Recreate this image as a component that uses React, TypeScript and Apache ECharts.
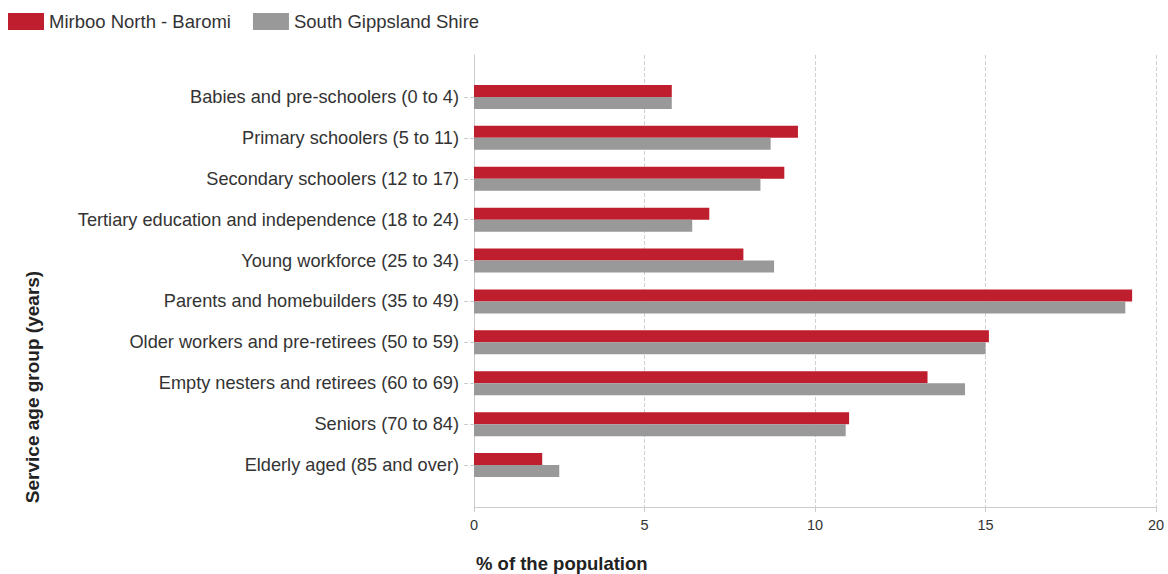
import React, { useEffect, useRef } from "react";
import * as echarts from "echarts";

const categories = [
  "Babies and pre-schoolers (0 to 4)",
  "Primary schoolers (5 to 11)",
  "Secondary schoolers (12 to 17)",
  "Tertiary education and independence (18 to 24)",
  "Young workforce (25 to 34)",
  "Parents and homebuilders (35 to 49)",
  "Older workers and pre-retirees (50 to 59)",
  "Empty nesters and retirees (60 to 69)",
  "Seniors (70 to 84)",
  "Elderly aged (85 and over)",
];

const mirbooNorth = [5.8, 9.5, 9.1, 6.9, 7.9, 19.3, 15.1, 13.3, 11.0, 2.0];
const southGippsland = [5.8, 8.7, 8.4, 6.4, 8.8, 19.1, 15.0, 14.4, 10.9, 2.5];

const xTicks = [0, 5, 10, 15, 20];

const FONT = "'Liberation Sans', Arial, sans-serif";

export default function App() {
  const ref = useRef<HTMLDivElement>(null);

  useEffect(() => {
    if (!ref.current) return;
    const chart = echarts.init(ref.current, null, { renderer: "svg" });
    const option: any = {
      animation: false,
      backgroundColor: "#ffffff",
      textStyle: { fontFamily: FONT },
      legend: {
        left: 8,
        top: 12,
        padding: 0,
        icon: "rect",
        itemWidth: 36,
        itemHeight: 17,
        itemGap: 22,
        textStyle: { fontSize: 18.5, color: "#333333", fontFamily: FONT },
        data: ["Mirboo North - Baromi", "South Gippsland Shire"],
      },
      grid: [
        { left: 474, right: 12, top: 76.5, height: 409, containLabel: false },
        { left: 474, right: 12, top: 55, height: 452, containLabel: false },
      ],
      xAxis: [
        { gridIndex: 0, type: "value", min: xTicks[0], max: xTicks[xTicks.length - 1], show: false },
        {
          gridIndex: 1,
          type: "value",
          min: xTicks[0],
          max: xTicks[xTicks.length - 1],
          interval: 5,
          axisLine: { show: true, lineStyle: { color: "#cccccc", width: 1 } },
          axisTick: { show: true, length: 5, lineStyle: { color: "#cccccc" } },
          axisLabel: { fontSize: 14.5, color: "#333333", margin: 10, fontFamily: FONT },
          splitLine: { show: true, lineStyle: { color: "#d0d0d0", type: "dashed", width: 1 } },
        },
      ],
      yAxis: [
        {
          gridIndex: 0,
          type: "category",
          inverse: true,
          data: categories,
          axisLine: { show: false },
          axisTick: {
            show: true,
            alignWithLabel: true,
            length: 10,
            lineStyle: { color: "#cccccc", type: "dashed" },
          },
          axisLabel: { fontSize: 18.2, color: "#333333", margin: 15, fontFamily: FONT },
          splitLine: { show: false },
        },
        {
          gridIndex: 1,
          type: "value",
          min: 0,
          max: 1,
          axisLine: { show: true, lineStyle: { color: "#cccccc", width: 1 } },
          axisTick: { show: false },
          axisLabel: { show: false },
          splitLine: { show: false },
        },
      ],
      graphic: [
        {
          type: "text",
          x: 32,
          y: 387,
          rotation: Math.PI / 2,
          style: {
            text: "Service age group (years)",
            fontSize: 19,
            fontWeight: "bold",
            fill: "#222222",
            fontFamily: FONT,
            align: "center",
            verticalAlign: "middle",
          },
        },
        {
          type: "text",
          x: 476,
          y: 563,
          style: {
            text: "% of the population",
            fontSize: 18.5,
            fontWeight: "bold",
            fill: "#222222",
            fontFamily: FONT,
            align: "left",
            verticalAlign: "middle",
          },
        },
      ],
      series: [
        {
          name: "Mirboo North - Baromi",
          type: "bar",
          xAxisIndex: 0,
          yAxisIndex: 0,
          data: mirbooNorth,
          barWidth: 12,
          barGap: "0%",
          itemStyle: { color: "#BE1E2D" },
        },
        {
          name: "South Gippsland Shire",
          type: "bar",
          xAxisIndex: 0,
          yAxisIndex: 0,
          data: southGippsland,
          barWidth: 12,
          barGap: "0%",
          itemStyle: { color: "#999999" },
        },
      ],
    };
    chart.setOption(option);
    return () => chart.dispose();
  }, []);

  return (
    <div
      ref={ref}
      style={{ position: "absolute", left: 0, top: 0, width: 1168, height: 574 }}
    />
  );
}
